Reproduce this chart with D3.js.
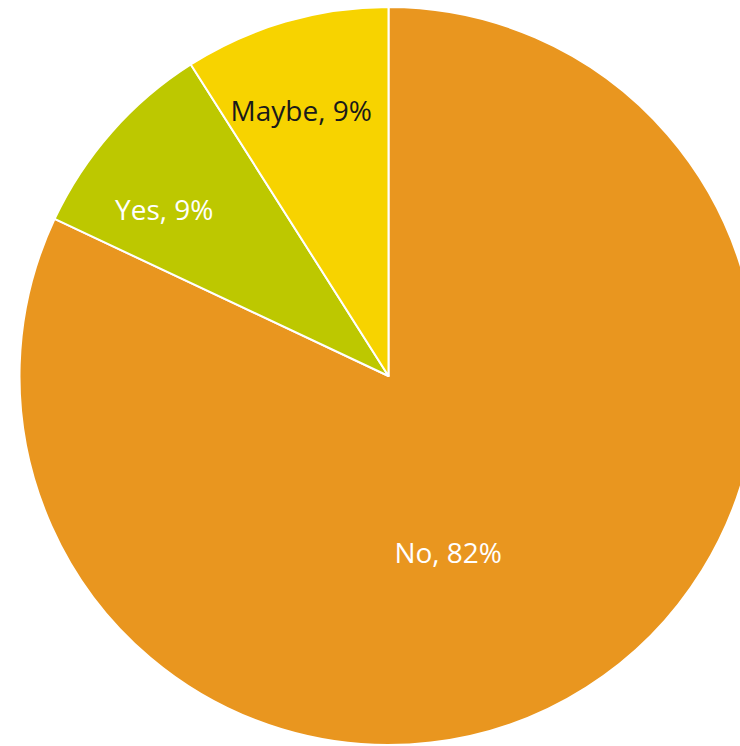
<!DOCTYPE html>
<html>
<head>
<meta charset="utf-8">
<script src="https://cdn.jsdelivr.net/npm/d3@7"></script>
<style>
  html, body { margin: 0; padding: 0; background: #ffffff; }
  svg { display: block; }
</style>
</head>
<body>
<svg id="chart" width="740" height="746"></svg>
<script>
const categories = ["No", "Yes", "Maybe"];
const values = [82, 9, 9];
const colors = ["#E9961F", "#BDC800", "#F7D300"];
const labelColors = ["#ffffff", "#ffffff", "#1a1a1a"];

const W = 740, H = 746;
const cx = 388.5, cy = 376, R = 369;

const svg = d3.select("#chart");
const g = svg.append("g").attr("transform", `translate(${cx},${cy})`);

const pie = d3.pie().sort(null).value(d => d.value);
const data = categories.map((c, i) => ({ name: c, value: values[i], i }));
const arcs = pie(data);

const arc = d3.arc().innerRadius(0).outerRadius(R);

g.selectAll("path.slice")
  .data(arcs)
  .join("path")
  .attr("class", "slice")
  .attr("d", arc)
  .attr("fill", d => colors[d.data.i])
  .attr("stroke", "#ffffff")
  .attr("stroke-width", 2)
  .attr("stroke-linejoin", "round");

// label placement: large slice label sits nearer centre
function labelPos(d) {
  const big = (d.endAngle - d.startAngle) > Math.PI;
  const r = big ? 0.506 * R : 0.755 * R;
  const mid = big ? (d.startAngle + d.endAngle) / 2 + 0.24 : (d.startAngle + d.endAngle) / 2 - (d.data.i === 1 ? 0.087 : 0.036);
  return [Math.sin(mid) * r, -Math.cos(mid) * r];
}

g.selectAll("text.lbl")
  .data(arcs)
  .join("text")
  .attr("class", "lbl")
  .attr("transform", d => `translate(${labelPos(d)})`)
  .attr("text-anchor", "middle")
  .attr("dy", "0.35em")
  .attr("font-family", "'Open Sans', 'Noto Sans', sans-serif")
  .attr("font-size", 28)
  .attr("fill", d => labelColors[d.data.i])
  .text(d => `${d.data.name}, ${d.data.value}%`);
</script>
</body>
</html>
